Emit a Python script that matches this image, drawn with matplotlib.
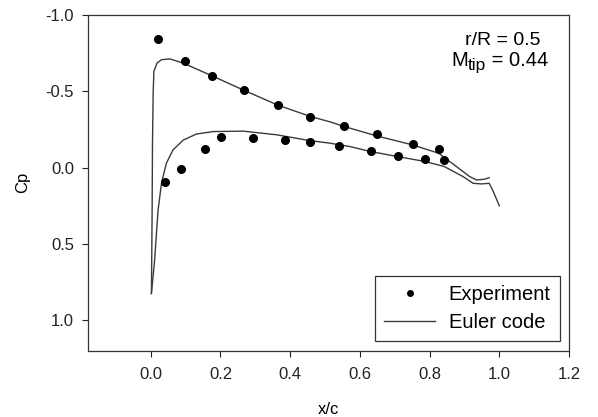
import matplotlib
matplotlib.use("Agg")
import matplotlib.pyplot as plt
from matplotlib.transforms import IdentityTransform

plt.rcParams['font.family'] = ['Liberation Sans', 'DejaVu Sans']

# Experimental data
exp_upper_x = [0.021, 0.098, 0.177, 0.269, 0.364, 0.458, 0.554, 0.649, 0.751, 0.826]
exp_upper_cp = [-0.845, -0.70, -0.602, -0.51, -0.41, -0.333, -0.274, -0.217, -0.156, -0.121]
exp_lower_x = [0.042, 0.087, 0.155, 0.203, 0.294, 0.386, 0.456, 0.541, 0.631, 0.709, 0.787, 0.842]
exp_lower_cp = [0.094, 0.007, -0.125, -0.20, -0.195, -0.184, -0.169, -0.142, -0.11, -0.077, -0.055, -0.048]

# Euler code
euler_upper_x = [0.002, 0.004, 0.005, 0.007, 0.009, 0.018, 0.031, 0.055, 0.093, 0.179,
                 0.269, 0.364, 0.458, 0.514, 0.554, 0.649, 0.751, 0.826, 0.877, 0.915,
                 0.935, 0.958, 0.971]
euler_upper_cp = [0.825, 0.28, -0.16, -0.49, -0.63, -0.685, -0.707, -0.712, -0.685, -0.598,
                  -0.505, -0.41, -0.335, -0.30, -0.27, -0.207, -0.149, -0.094, -0.007, 0.059,
                  0.081, 0.076, 0.066]
euler_lower_x = [0.002, 0.011, 0.021, 0.031, 0.045, 0.064, 0.093, 0.131, 0.179, 0.265,
                 0.361, 0.456, 0.514, 0.571, 0.631, 0.709, 0.787, 0.842, 0.896, 0.925,
                 0.949, 0.971, 0.983, 1.0]
euler_lower_cp = [0.825, 0.61, 0.28, 0.10, -0.03, -0.116, -0.18, -0.22, -0.236, -0.239,
                  -0.215, -0.177, -0.16, -0.138, -0.105, -0.072, -0.04, -0.007, 0.059, 0.103,
                  0.107, 0.103, 0.158, 0.25]

x_ticks = [0.0, 0.2, 0.4, 0.6, 0.8, 1.0, 1.2]
y_ticks = [-1.0, -0.5, 0.0, 0.5, 1.0]

W, H = 598, 417
fig = plt.figure(figsize=(W / 100, H / 100), dpi=100)
ax = fig.add_axes([88/W, 1 - 350.7/H, (569-88)/W, (350.7-15)/H])

line_color = '#3a3a3a'
ax.plot(euler_upper_x, euler_upper_cp, color=line_color, lw=1.0, label='Euler code')
ax.plot(euler_lower_x, euler_lower_cp, color=line_color, lw=1.0)
ax.plot(exp_upper_x, exp_upper_cp, 'o', color='black', ms=5.5, label='Experiment')
ax.plot(exp_lower_x, exp_lower_cp, 'o', color='black', ms=5.5)

ax.set_xlim(-0.18, 1.2)
ax.set_ylim(1.2, -1.0)
ax.set_xticks(x_ticks)
ax.set_xticklabels([f"{v:.1f}" for v in x_ticks])
ax.set_yticks(y_ticks)
ax.set_yticklabels([f"{v:.1f}" for v in y_ticks])
ax.tick_params(direction='out', length=4, width=0.8, labelsize=12, colors='#222222', pad=8)
ax.tick_params(axis='y', pad=6)
for s in ax.spines.values():
    s.set_color('#333333')
    s.set_linewidth(0.9)

ax.set_xlabel('x/c', fontsize=12, labelpad=14)
ax.set_ylabel('Cp', fontsize=12, labelpad=11)

# Annotation text (pixel coordinates, origin bottom-left)
ident = IdentityTransform()
fig.text(503, H - 45, 'r/R = 0.5', transform=ident, ha='center', va='baseline', fontsize=14)

fig.canvas.draw()
renderer = fig.canvas.get_renderer()
parts = [('M', 14.5, 0), ('tip', 12.5, -4), (' = 0.44', 14.5, 0)]
tmp = []
for s, fs, dy in parts:
    t = fig.text(0, 0, s, transform=ident, ha='left', va='baseline', fontsize=fs)
    tmp.append(t)
widths = [t.get_window_extent(renderer).width for t in tmp]
total = sum(widths)
x = 500 - total / 2
for t, w, (s, fs, dy) in zip(tmp, widths, parts):
    t.set_position((x, H - 65.7 + dy))
    x += w

handles, labels = ax.get_legend_handles_labels()
order = [labels.index('Experiment'), labels.index('Euler code')]
leg = ax.legend([handles[i] for i in order], [labels[i] for i in order],
                loc='lower right', bbox_to_anchor=(0.981, 0.029), borderaxespad=0,
                fancybox=False, edgecolor='#333333', fontsize=14.5, handlelength=2.5,
                framealpha=1, borderpad=0.45, labelspacing=0.42,
                handletextpad=0.7)
leg.get_frame().set_linewidth(0.9)
leg.legend_handles[0].set_markersize(4.0)

fig.savefig('out.png', dpi=100)
